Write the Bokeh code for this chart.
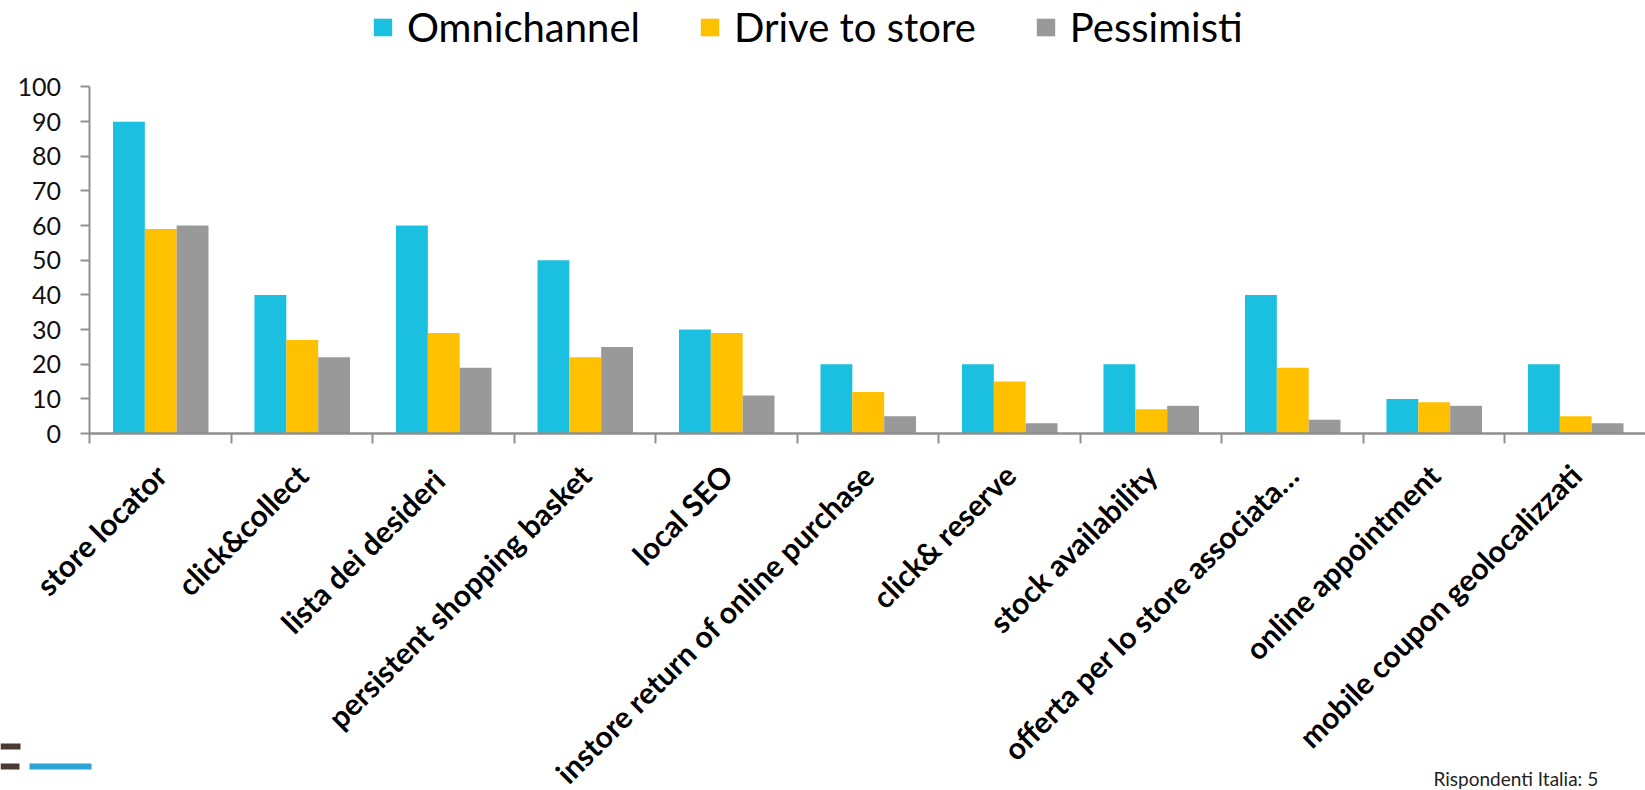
import math
from bokeh.plotting import figure
from bokeh.models import (Range1d, ColumnDataSource, LinearAxis, FixedTicker, Legend, LegendItem,
                          Label, BoxAnnotation)
from bokeh.transform import dodge
from bokeh.embed import file_html
from bokeh.resources import INLINE

categories = ["store locator", "click&collect", "lista dei  desideri", "persistent shopping basket",
              "local SEO", "instore return of online purchase", "click& reserve", "stock availability",
              "offerta per lo store associata…", "online appointment", "mobile coupon geolocalizzati"]
omnichannel = [90, 40, 60, 50, 30, 20, 20, 20, 40, 10, 20]
drive_to_store = [59, 27, 29, 22, 29, 12, 15, 7, 19, 9, 5]
pessimisti = [60, 22, 19, 25, 11, 5, 3, 8, 4, 8, 3]
series_names = ["Omnichannel", "Drive to store", "Pessimisti"]
colors = ["#1BBFDF", "#FFC000", "#999999"]
y_ticks = list(range(0, 101, 10))
footer_text = "Rispondenti Italia: 5"

n = len(categories)
centers = [i + 0.5 for i in range(n)]
src = ColumnDataSource(dict(x=centers, a=omnichannel, b=drive_to_store, c=pessimisti))

# The frame covers the whole canvas; axes are drawn at fixed locations inside it.
p = figure(width=1645, height=790, x_range=Range1d(-0.6325, 10.993), y_range=Range1d(-103.0, 124.96),
           output_backend="svg", toolbar_location=None, x_axis_location=None, y_axis_location=None,
           min_border=0, min_border_left=0, min_border_right=0, min_border_top=0, min_border_bottom=0)
p.xgrid.visible = False
p.ygrid.visible = False
p.outline_line_color = None

w = 0.225
r1 = p.vbar(x=dodge("x", -w), top="a", bottom=0, width=w, source=src, fill_color=colors[0], line_color=None)
r2 = p.vbar(x=dodge("x", 0), top="b", bottom=0, width=w, source=src, fill_color=colors[1], line_color=None)
r3 = p.vbar(x=dodge("x", w), top="c", bottom=0, width=w, source=src, fill_color=colors[2], line_color=None)

axis_color = "#8f8f8f"

# y axis
ya = LinearAxis(fixed_location=0, bounds=(0, 100), ticker=FixedTicker(ticks=y_ticks),
                major_tick_out=9, major_tick_in=0, minor_tick_line_color=None,
                axis_line_color=axis_color, axis_line_width=2,
                major_tick_line_color=axis_color, major_tick_line_width=2,
                major_label_text_font="Lato", major_label_text_font_size="25px",
                major_label_text_color="#111111", major_label_standoff=20)
p.add_layout(ya, "left")

# x tick axis at category boundaries
tick_axis = LinearAxis(fixed_location=0, bounds=(0, n), ticker=FixedTicker(ticks=list(range(n + 1))),
                       major_label_text_font_size="1px", major_label_text_alpha=0,
                       major_tick_out=10, major_tick_in=0, minor_tick_line_color=None,
                       axis_line_color=axis_color, axis_line_width=2.5,
                       major_tick_line_color=axis_color, major_tick_line_width=2,
                       major_label_standoff=0)
p.add_layout(tick_axis, "below")

cat_axis = LinearAxis(fixed_location=0, ticker=FixedTicker(ticks=centers),
                      major_label_overrides={c: name for c, name in zip(centers, categories)},
                      axis_line_color=None, major_tick_line_color=None, minor_tick_line_color=None,
                      major_tick_out=0, major_tick_in=0,
                      major_label_orientation=math.pi / 4,
                      major_label_text_font="Lato", major_label_text_font_style="bold",
                      major_label_text_font_size="30px", major_label_text_color="#000000",
                      major_label_standoff=36)
p.add_layout(cat_axis, "below")

legend = Legend(items=[LegendItem(label=series_names[0], renderers=[r1]),
                       LegendItem(label=series_names[1], renderers=[r2]),
                       LegendItem(label=series_names[2], renderers=[r3])],
                orientation="horizontal", location=(371, 739),
                label_text_font="Lato", label_text_font_size="40px", label_text_color="#000000",
                glyph_width=23, glyph_height=22, label_standoff=13, spacing=58,
                padding=4, margin=0, border_line_color=None, background_fill_alpha=0)
p.add_layout(legend, "center")

# footer text and decorative mark (screen units, from the bottom-left corner)
p.add_layout(Label(x=1433, y=1, x_units="screen", y_units="screen", text=footer_text,
                   text_font="Lato", text_font_size="19px", text_color="#222222"))
for top, bottom, left, right, col in [(47, 41, 0, 20, "#4b3a32"), (27, 21, 0, 19, "#4b3a32"),
                                      (27, 21, 29, 91, "#2EA3D6")]:
    p.add_layout(BoxAnnotation(left=left, right=right, top=top, bottom=bottom, left_units="screen",
                               right_units="screen", top_units="screen", bottom_units="screen",
                               fill_color=col, fill_alpha=1, line_color=None))

open("out.html", "w").write(file_html(p, INLINE))
